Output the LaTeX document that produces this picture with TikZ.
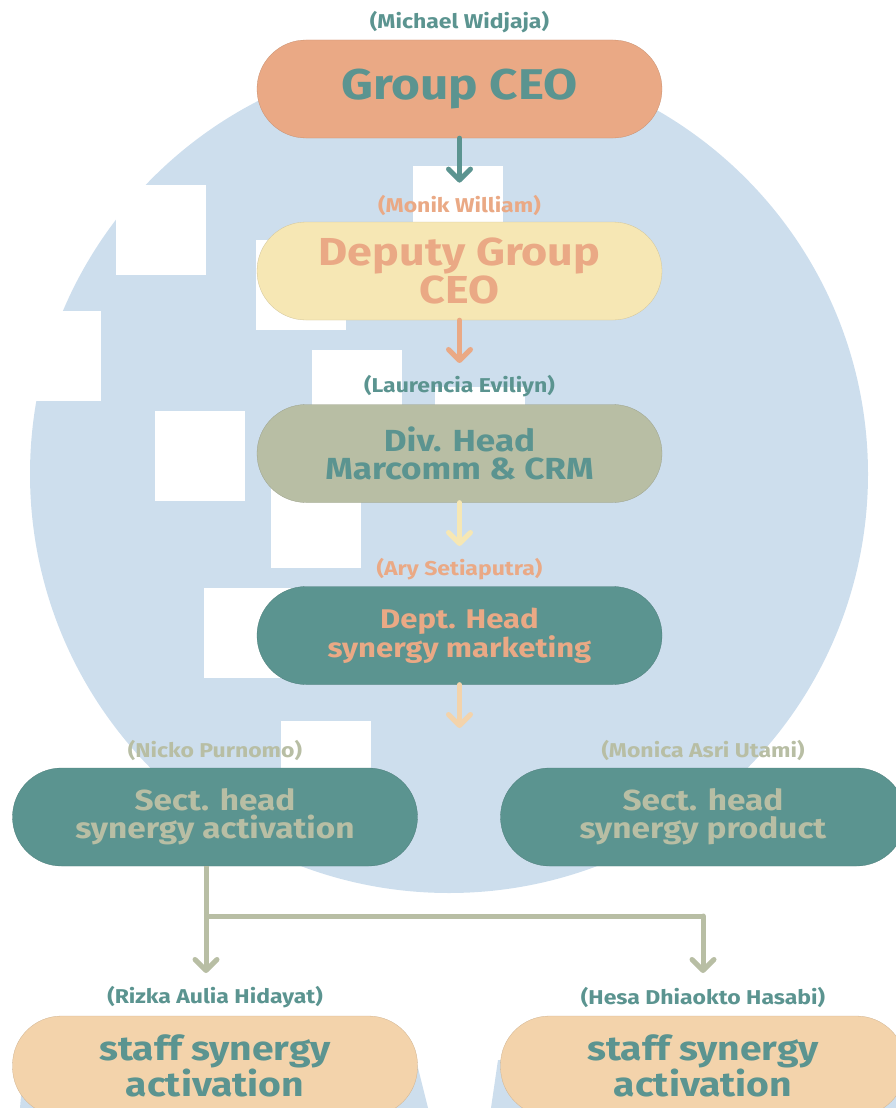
\documentclass[tikz,border=0pt]{standalone}
\usepackage{fontspec}
\setmainfont[FakeStretch=1.15]{Fira Sans}
\usetikzlibrary{arrows.meta}
\definecolor{bluebg}{HTML}{CDDEED}
\definecolor{salmon}{HTML}{EAA985}
\definecolor{tealc}{HTML}{5B9490}
\definecolor{paley}{HTML}{F6E7B4}
\definecolor{sage}{HTML}{B8BEA4}
\definecolor{peach}{HTML}{F3D3AB}
\begin{document}
\begin{tikzpicture}[x=1pt,y=-1pt,
  pill/.style={rectangle, rounded corners=49pt, minimum width=405pt, minimum height=98pt,
    align=center, inner sep=0pt, fill=#1, draw=#1!85!black, line width=0.3pt},
  namelbl/.style={font=\fontsize{20}{20}\selectfont\bfseries, text=#1, inner sep=0pt},
  arr/.style={draw=#1, line width=5pt, line cap=round,
    -{Straight Barb[length=11pt,width=22pt,round]}},
  conn/.style={draw=sage, line width=5pt},
  whitebox/.style={fill=white, draw=none}]
\useasboundingbox (0,0) rectangle (896,1108);
\clip (0,0) rectangle (896,1108);
% background shapes
\fill[bluebg] (449,474) circle[radius=419pt];
\fill[bluebg] (24,1060) -- (416,1060) -- (428,1108) -- (20,1108) -- cycle;
\fill[bluebg] (498,1060) -- (896,1060) -- (896,1108) -- (491,1108) -- cycle;
\foreach \x/\y in {116/185, 11/311, 155/411, 256/240, 413/166, 312/350, 435/387, 271/478, 204/588, 281/721}
  \fill[whitebox] (\x,\y) rectangle ++(90,90);
% boxes
\node[pill=salmon, text=tealc, font=\fontsize{43}{43}\selectfont\bfseries] (ceo) at (459.5,89) {Group CEO};
\node[pill=paley, text=salmon, font=\fontsize{39}{36}\selectfont\bfseries] (dep) at (459.5,271) {Deputy Group\\CEO};
\node[pill=sage, text=tealc, font=\fontsize{30.5}{28}\selectfont\bfseries] (div) at (459.5,453.5) {Div. Head\\Marcomm \& CRM};
\node[pill=tealc, text=salmon, font=\fontsize{27}{26}\selectfont\bfseries] (dept) at (459.5,635.5) {Dept. Head\\synergy marketing};
\node[pill=tealc, text=sage, font=\fontsize{29}{28}\selectfont\bfseries] (sa) at (215,817) {Sect. head\\synergy activation};
\node[pill=tealc, text=sage, font=\fontsize{29}{28}\selectfont\bfseries] (sp) at (703,817) {Sect. head\\synergy product};
\node[pill=peach, text=tealc, font=\fontsize{34}{32}\selectfont\bfseries, minimum height=100pt] (st1) at (215,1066) {staff synergy\\activation};
\node[pill=peach, text=tealc, font=\fontsize{34}{32}\selectfont\bfseries, minimum height=100pt] (st2) at (703,1066) {staff synergy\\activation};
% name labels
\node[namelbl=tealc] (n1) at (459.5,22) {(Michael Widjaja)};
\node[namelbl=salmon] (n2) at (459.5,205) {(Monik William)};
\node[namelbl=tealc] (n3) at (459.5,386) {(Laurencia Eviliyn)};
\node[namelbl=salmon] (n4) at (459.5,569) {(Ary Setiaputra)};
\node[namelbl=sage] (n5) at (215,750) {(Nicko Purnomo)};
\node[namelbl=sage] (n6) at (703,750) {(Monica Asri Utami)};
\node[namelbl=tealc] (n7) at (215,997) {(Rizka Aulia Hidayat)};
\node[namelbl=tealc] (n8) at (703,997) {(Hesa Dhiaokto Hasabi)};
% connectors
\coordinate (e4) at (459.5,728);
\draw[arr=tealc, shorten >=12pt] (ceo.south) -- (n2.north);
\draw[arr=salmon, shorten >=12pt] (dep.south) -- (n3.north);
\draw[arr=paley, shorten >=12pt] (div.south) -- (n4.north);
\draw[arr=peach] (dept.south) -- (e4);
\coordinate (j1) at (206,916);
\coordinate (j2) at (703,916);
\coordinate (t1) at (206,973);
\coordinate (t2) at (703,973);
\draw[conn] (sa.south -| j1) -- (j1) -- (j2);
\draw[arr=sage] (j1) -- (t1);
\draw[arr=sage] (j2) -- (t2);
\end{tikzpicture}
\end{document}
